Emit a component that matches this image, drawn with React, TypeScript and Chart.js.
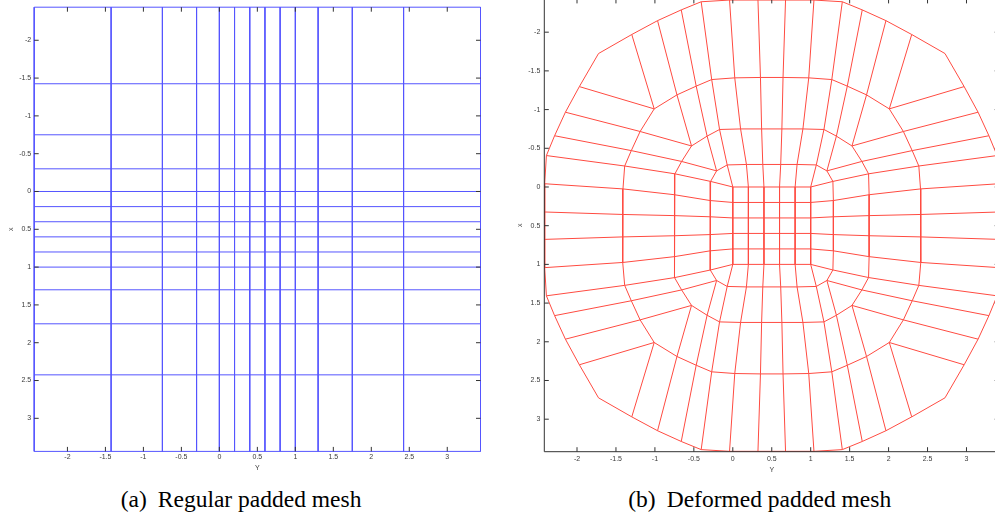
import React, { useEffect, useRef } from "react";
import { Chart, registerables } from "chart.js";

Chart.register(...registerables);

// ---------- data ----------
const tickValues = [-2, -1.5, -1, -0.5, 0, 0.5, 1, 1.5, 2, 2.5, 3];
const tickLabels = ["-2", "-1.5", "-1", "-0.5", "0", "0.5", "1", "1.5", "2", "2.5", "3"];
const xTitle = "Y";
const yTitle = "x";

// (a) regular padded mesh: line positions (same along both axes)
const regularLines = [-2.4375, -1.425, -0.75, -0.3, 0, 0.2, 0.4, 0.6, 0.8, 1, 1.3, 1.75, 2.425, 3.4375];

// (b) deformed padded mesh, nodes for one octant
// ring k holds nodes (k, j) for j = k..6 (outer ring first, core last)
const ring0X = [-1.724, -1.97, -2.149, -2.288, -2.393, -2.415, -2.415];
const ring0Y = [-1.724, -1.297, -0.966, -0.662, -0.406, -0.042, 0.323];
const ring1X = [-1.009, -1.19, -1.303, -1.388, -1.41, -1.415];
const ring1Y = [-1.009, -0.717, -0.47, -0.271, 0.025, 0.355];
const ring2X = [-0.53, -0.657, -0.743, -0.75, -0.75];
const ring2Y = [-0.53, -0.33, -0.17, 0.1, 0.37];
const ring3X = [-0.208, -0.285, -0.291, -0.291];
const ring3Y = [-0.208, -0.072, 0.175, 0.385];
const ring4X = [0, 0, 0];
const ring4Y = [0, 0.2, 0.4];
const ring5X = [0.2, 0.2];
const ring5Y = [0.2, 0.4];
const ring6X = [0.4];
const ring6Y = [0.4];

const captionA = ["(a)", "Regular padded mesh"];
const captionB = ["(b)", "Deformed padded mesh"];

type P = { x: number; y: number };
const GAP: P = { x: NaN, y: NaN };

// all polylines of a mesh joined in one series, broken by gaps
function joinLines(lines: P[][]): P[] {
  const out: P[] = [];
  lines.forEach((l, k) => {
    if (k > 0) out.push(GAP);
    l.forEach((pt) => out.push(pt));
  });
  return out;
}

function regularMesh(): P[] {
  const lo = regularLines[0];
  const hi = regularLines[regularLines.length - 1];
  const lines: P[][] = [];
  regularLines.forEach((v) => {
    lines.push([{ x: v, y: lo }, { x: v, y: hi }]);
    lines.push([{ x: lo, y: v }, { x: hi, y: v }]);
  });
  return joinLines(lines);
}

function deformedMesh(): P[] {
  const octX = [ring0X, ring1X, ring2X, ring3X, ring4X, ring5X, ring6X];
  const octY = [ring0Y, ring1Y, ring2Y, ring3Y, ring4Y, ring5Y, ring6Y];
  const n = regularLines.length;
  const h = n / 2;
  const c = (regularLines[h - 1] + regularLines[h]) / 2;
  const node = (i: number, j: number): P => {
    const fi = i < h ? i : n - 1 - i;
    const fj = j < h ? j : n - 1 - j;
    let x: number, y: number;
    if (fi <= fj) {
      x = octX[fi][fj - fi];
      y = octY[fi][fj - fi];
    } else {
      x = octY[fj][fi - fj];
      y = octX[fj][fi - fj];
    }
    if (i >= h) x = 2 * c - x;
    if (j >= h) y = 2 * c - y;
    return { x, y };
  };
  const lines: P[][] = [];
  for (let k = 0; k < n; k++) {
    const row: P[] = [];
    const col: P[] = [];
    for (let m = 0; m < n; m++) {
      row.push(node(m, k));
      col.push(node(k, m));
    }
    lines.push(row, col);
  }
  return joinLines(lines);
}

// ---------- plugin: inward tick marks on all four sides + optional box ----------
const innerTicks = {
  id: "innerTicks",
  afterDatasetsDraw(chart: any, _args: any, opts: any) {
    const { ctx, chartArea: a, scales } = chart;
    const len = opts.length || 4.5;
    ctx.save();
    ctx.strokeStyle = opts.color || "#333";
    ctx.lineWidth = 1;
    const seg = (x1: number, y1: number, x2: number, y2: number) => {
      ctx.beginPath();
      ctx.moveTo(x1, y1);
      ctx.lineTo(x2, y2);
      ctx.stroke();
    };
    if (opts.box) {
      ctx.beginPath();
      ctx.rect(a.left, a.top, a.right - a.left, a.bottom - a.top);
      ctx.stroke();
    }
    scales.x.ticks.forEach((t: any) => {
      const p = scales.x.getPixelForValue(t.value);
      seg(p, a.bottom, p, a.bottom - len);
      seg(p, a.top, p, a.top + len);
    });
    scales.y.ticks.forEach((t: any) => {
      const p = scales.y.getPixelForValue(t.value);
      seg(a.left, p, a.left + len, p);
      seg(a.right, p, a.right - len, p);
    });
    ctx.restore();
  },
};

const labelFont = { family: "'Liberation Sans', Arial, sans-serif", size: 7 };
const labelColor = "#3a3a3a";

type PanelProps = {
  points: P[];
  color: string;
  box: boolean;
  left: number;
  top: number;
  width: number;
  height: number;
  xMin: number;
  xMax: number;
  yMin: number;
  yMax: number;
  padTop: number;
  padRight: number;
  yAxisW: number;
  xAxisH: number;
  xTickPad: number;
  yTickPad: number;
  xTitlePad: number;
  yTitlePad: number;
};

function Panel(p: PanelProps) {
  const ref = useRef<HTMLCanvasElement | null>(null);
  useEffect(() => {
    if (!ref.current) return;
    const chart = new Chart(ref.current, {
      type: "scatter",
      data: {
        datasets: [
          {
            data: p.points,
            showLine: true,
            spanGaps: false,
            borderColor: p.color,
            backgroundColor: p.color,
            borderWidth: 1,
            pointRadius: 0,
            pointHoverRadius: 0,
            fill: false,
            tension: 0,
            clip: 3,
          },
        ],
      },
      options: {
        animation: false,
        responsive: false,
        events: [],
        layout: { padding: { top: p.padTop, right: p.padRight, left: 0, bottom: 0 } },
        plugins: {
          legend: { display: false },
          tooltip: { enabled: false },
          innerTicks: { color: "#333", length: 4.5, box: p.box },
        } as any,
        scales: {
          x: {
            type: "linear",
            min: p.xMin,
            max: p.xMax,
            grid: { display: false, drawTicks: false },
            border: { display: false },
            afterBuildTicks: (s: any) => {
              s.ticks = tickValues.map((v) => ({ value: v }));
            },
            afterFit: (s: any) => {
              s.height = p.xAxisH;
            },
            ticks: {
              autoSkip: false,
              maxRotation: 0,
              minRotation: 0,
              padding: p.xTickPad,
              color: labelColor,
              font: labelFont,
              callback: (_v: any, i: number) => tickLabels[i],
            },
            title: {
              display: true,
              text: xTitle,
              color: labelColor,
              font: labelFont,
              padding: { top: 0, bottom: p.xTitlePad },
            },
          },
          y: {
            type: "linear",
            reverse: true,
            min: p.yMin,
            max: p.yMax,
            grid: { display: false, drawTicks: false },
            border: { display: false },
            afterBuildTicks: (s: any) => {
              s.ticks = tickValues.map((v) => ({ value: v }));
            },
            afterFit: (s: any) => {
              s.width = p.yAxisW;
            },
            ticks: {
              autoSkip: false,
              padding: p.yTickPad,
              color: labelColor,
              font: labelFont,
              callback: (_v: any, i: number) => tickLabels[i],
            },
            title: {
              display: true,
              text: yTitle,
              color: labelColor,
              font: labelFont,
              padding: { top: p.yTitlePad, bottom: 0 },
            },
          },
        },
      } as any,
      plugins: [innerTicks as any],
    });
    return () => chart.destroy();
  }, []);
  return (
    <canvas
      ref={ref}
      width={p.width}
      height={p.height}
      style={{ position: "absolute", left: p.left, top: p.top, width: p.width, height: p.height }}
    />
  );
}

const captionStyle: React.CSSProperties = {
  position: "absolute",
  top: 487.5,
  fontFamily: "'Liberation Serif', 'Times New Roman', serif",
  fontSize: 23.5,
  lineHeight: "23.5px",
  whiteSpace: "nowrap",
  color: "#000",
};

export default function App() {
  return (
    <div
      style={{
        position: "fixed",
        left: 0,
        top: 0,
        width: 995,
        height: 521,
        overflow: "hidden",
        background: "#fff",
      }}
    >
      <Panel
        points={regularMesh()}
        color="rgb(85,85,255)"
        box={false}
        left={0}
        top={0}
        width={497}
        height={480}
        xMin={-2.4375}
        xMax={3.4375}
        yMin={-2.4375}
        yMax={3.4375}
        padTop={6.4}
        padRight={16.5}
        yAxisW={34.2}
        xAxisH={28.6}
        xTickPad={1.1}
        yTickPad={3}
        xTitlePad={7.5}
        yTitlePad={6.8}
      />
      <Panel
        points={deformedMesh()}
        color="rgb(255,75,65)"
        box={true}
        left={497}
        top={-12}
        width={515}
        height={492}
        xMin={-2.42}
        xMax={3.42}
        yMin={-2.43}
        yMax={3.42}
        padTop={10.9}
        padRight={12.8}
        yAxisW={47.3}
        xAxisH={28.3}
        xTickPad={3.4}
        yTickPad={4}
        xTitlePad={5.8}
        yTitlePad={18.8}
      />
      <div style={{ ...captionStyle, left: 120.7 }}>
        <span>{captionA[0]}</span>
        <span style={{ marginLeft: 11 }}>{captionA[1]}</span>
      </div>
      <div style={{ ...captionStyle, left: 628.3 }}>
        <span>{captionB[0]}</span>
        <span style={{ marginLeft: 11 }}>{captionB[1]}</span>
      </div>
    </div>
  );
}
